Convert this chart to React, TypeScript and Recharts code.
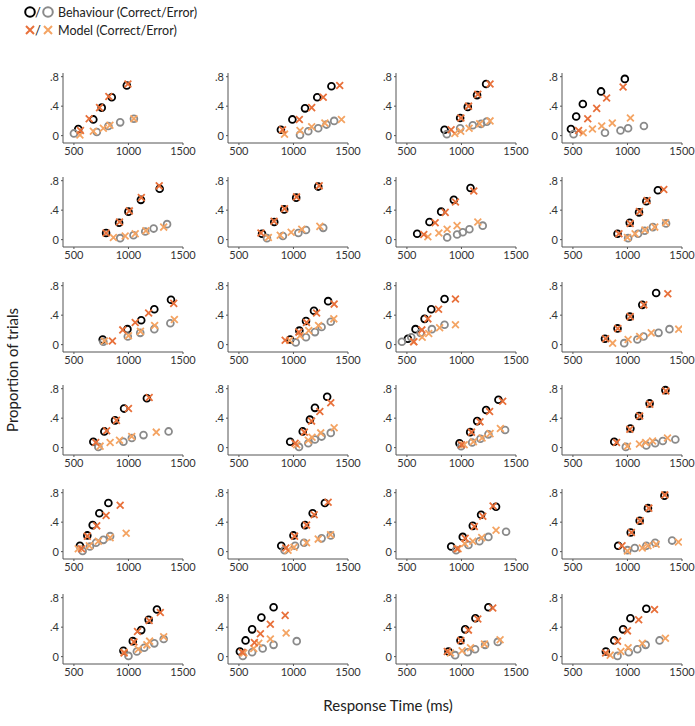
import { ScatterChart, Scatter, XAxis, YAxis } from "recharts";

// each entry is one panel (row by row, 4 per row); points are [RT ms, proportion]
const behavCorrect: [number, number][][] = [
  [[540, 0.09], [678, 0.22], [755, 0.38], [847, 0.52], [985, 0.68]],
  [[885, 0.08], [990, 0.22], [1106, 0.37], [1218, 0.52], [1348, 0.67]],
  [[845, 0.08], [988, 0.24], [1058, 0.39], [1143, 0.55], [1226, 0.7]],
  [[482, 0.09], [530, 0.26], [591, 0.43], [758, 0.6], [976, 0.77]],
  [[795, 0.09], [914, 0.23], [1000, 0.38], [1114, 0.54], [1286, 0.69]],
  [[712, 0.08], [824, 0.24], [915, 0.41], [1025, 0.57], [1227, 0.72]],
  [[594, 0.08], [707, 0.24], [814, 0.38], [930, 0.54], [1083, 0.7]],
  [[909, 0.08], [1021, 0.23], [1106, 0.37], [1173, 0.52], [1279, 0.67]],
  [[764, 0.07], [991, 0.21], [1117, 0.33], [1237, 0.48], [1390, 0.61]],
  [[970, 0.07], [1054, 0.19], [1115, 0.32], [1188, 0.46], [1318, 0.59]],
  [[509, 0.08], [579, 0.21], [662, 0.35], [723, 0.48], [845, 0.62]],
  [[794, 0.08], [909, 0.22], [1021, 0.38], [1136, 0.54], [1263, 0.7]],
  [[678, 0.08], [779, 0.22], [877, 0.37], [960, 0.53], [1169, 0.67]],
  [[970, 0.08], [1085, 0.22], [1151, 0.38], [1197, 0.54], [1309, 0.69]],
  [[982, 0.06], [1080, 0.21], [1144, 0.36], [1226, 0.51], [1339, 0.65]],
  [[879, 0.08], [1027, 0.26], [1106, 0.43], [1203, 0.6], [1348, 0.78]],
  [[555, 0.08], [623, 0.22], [672, 0.36], [733, 0.52], [816, 0.66]],
  [[888, 0.08], [1000, 0.22], [1106, 0.36], [1176, 0.52], [1288, 0.66]],
  [[906, 0.07], [1012, 0.2], [1104, 0.35], [1180, 0.5], [1317, 0.61]],
  [[915, 0.08], [1030, 0.26], [1112, 0.42], [1188, 0.59], [1339, 0.76]],
  [[954, 0.08], [1040, 0.21], [1117, 0.36], [1185, 0.5], [1261, 0.64]],
  [[509, 0.07], [561, 0.22], [621, 0.37], [706, 0.53], [818, 0.67]],
  [[881, 0.07], [991, 0.22], [1034, 0.37], [1128, 0.52], [1247, 0.67]],
  [[802, 0.07], [879, 0.22], [960, 0.37], [1027, 0.52], [1173, 0.65]],
];

const behavError: [number, number][][] = [
  [[500, 0.03], [710, 0.05], [816, 0.13], [924, 0.18], [1050, 0.23]],
  [[1060, 0.01], [1136, 0.06], [1227, 0.1], [1303, 0.15], [1373, 0.2]],
  [[866, 0.02], [988, 0.1], [1104, 0.14], [1180, 0.16], [1232, 0.19]],
  [[506, 0.02], [794, 0.04], [936, 0.07], [1006, 0.1], [1151, 0.13]],
  [[924, 0.02], [1046, 0.06], [1154, 0.11], [1231, 0.15], [1354, 0.21]],
  [[757, 0.02], [903, 0.05], [1045, 0.09], [1115, 0.13], [1273, 0.16]],
  [[869, 0.03], [960, 0.07], [1012, 0.1], [1073, 0.14], [1195, 0.19]],
  [[1006, 0.02], [1097, 0.08], [1158, 0.12], [1233, 0.17], [1354, 0.22]],
  [[770, 0.04], [994, 0.11], [1108, 0.16], [1237, 0.21], [1384, 0.29]],
  [[1021, 0.03], [1115, 0.1], [1197, 0.17], [1258, 0.24], [1342, 0.31]],
  [[454, 0.04], [540, 0.1], [625, 0.16], [729, 0.21], [845, 0.27]],
  [[970, 0.02], [1091, 0.07], [1148, 0.11], [1285, 0.16], [1385, 0.21]],
  [[724, 0.01], [954, 0.08], [1031, 0.13], [1138, 0.17], [1368, 0.22]],
  [[1051, 0.01], [1136, 0.06], [1197, 0.11], [1258, 0.15], [1342, 0.2]],
  [[997, 0.02], [1098, 0.07], [1174, 0.12], [1247, 0.18], [1400, 0.24]],
  [[985, 0.01], [1173, 0.03], [1254, 0.06], [1324, 0.09], [1439, 0.11]],
  [[580, 0.01], [647, 0.07], [703, 0.12], [770, 0.16], [832, 0.21]],
  [[918, 0.02], [1015, 0.08], [1097, 0.12], [1258, 0.18], [1342, 0.22]],
  [[951, 0.02], [1064, 0.09], [1165, 0.14], [1247, 0.2], [1409, 0.27]],
  [[1000, 0.02], [1067, 0.05], [1173, 0.08], [1254, 0.12], [1409, 0.15]],
  [[1000, 0.01], [1077, 0.07], [1145, 0.12], [1237, 0.18], [1323, 0.24]],
  [[536, 0.01], [621, 0.06], [718, 0.11], [818, 0.16], [1030, 0.21]],
  [[942, 0.02], [1058, 0.06], [1125, 0.1], [1217, 0.16], [1333, 0.2]],
  [[909, 0.01], [1012, 0.06], [1091, 0.1], [1167, 0.16], [1294, 0.22]],
];

const modelCorrect: [number, number][][] = [
  [[560, 0.07], [640, 0.23], [735, 0.38], [820, 0.53], [995, 0.7]],
  [[900, 0.08], [1054, 0.22], [1167, 0.38], [1273, 0.52], [1424, 0.68]],
  [[905, 0.08], [995, 0.24], [1065, 0.4], [1150, 0.56], [1262, 0.7]],
  [[552, 0.07], [636, 0.23], [718, 0.37], [809, 0.51], [960, 0.66]],
  [[795, 0.09], [918, 0.24], [1008, 0.39], [1118, 0.57], [1282, 0.73]],
  [[702, 0.09], [822, 0.25], [918, 0.42], [1028, 0.58], [1236, 0.73]],
  [[655, 0.07], [759, 0.23], [851, 0.37], [945, 0.51], [1113, 0.66]],
  [[922, 0.08], [1025, 0.22], [1110, 0.38], [1180, 0.53], [1333, 0.68]],
  [[853, 0.05], [948, 0.2], [1062, 0.3], [1185, 0.43], [1415, 0.56]],
  [[924, 0.06], [1050, 0.17], [1120, 0.3], [1212, 0.43], [1373, 0.55]],
  [[564, 0.04], [637, 0.2], [692, 0.35], [790, 0.48], [945, 0.62]],
  [[800, 0.08], [912, 0.22], [1025, 0.38], [1150, 0.54], [1370, 0.69]],
  [[700, 0.07], [800, 0.23], [890, 0.37], [1000, 0.53], [1190, 0.68]],
  [[1015, 0.06], [1100, 0.21], [1166, 0.36], [1242, 0.49], [1342, 0.61]],
  [[1000, 0.04], [1092, 0.21], [1170, 0.35], [1258, 0.49], [1378, 0.63]],
  [[900, 0.07], [1022, 0.25], [1112, 0.43], [1205, 0.59], [1352, 0.77]],
  [[570, 0.04], [623, 0.21], [709, 0.35], [795, 0.49], [924, 0.63]],
  [[930, 0.05], [1010, 0.21], [1120, 0.36], [1190, 0.5], [1318, 0.67]],
  [[960, 0.04], [1034, 0.18], [1118, 0.34], [1196, 0.48], [1290, 0.62]],
  [[950, 0.08], [1036, 0.26], [1116, 0.42], [1196, 0.59], [1342, 0.77]],
  [[960, 0.05], [1050, 0.2], [1083, 0.34], [1190, 0.49], [1292, 0.6]],
  [[530, 0.06], [642, 0.19], [697, 0.31], [788, 0.44], [924, 0.56]],
  [[870, 0.07], [994, 0.22], [1064, 0.36], [1150, 0.51], [1287, 0.66]],
  [[800, 0.05], [909, 0.21], [1000, 0.35], [1103, 0.5], [1248, 0.64]],
];

const modelError: [number, number][][] = [
  [[555, 0.01], [678, 0.06], [770, 0.1], [830, 0.14], [1050, 0.23]],
  [[918, 0.02], [1060, 0.07], [1167, 0.12], [1288, 0.17], [1440, 0.22]],
  [[939, 0.03], [993, 0.06], [1070, 0.1], [1167, 0.16], [1262, 0.2]],
  [[594, 0.04], [679, 0.09], [764, 0.13], [861, 0.17], [1027, 0.24]],
  [[862, 0.03], [970, 0.05], [1062, 0.08], [1160, 0.12], [1323, 0.17]],
  [[770, 0.03], [879, 0.06], [979, 0.1], [1076, 0.14], [1242, 0.18]],
  [[692, 0.04], [793, 0.09], [869, 0.14], [960, 0.19], [1150, 0.24]],
  [[1000, 0.03], [1070, 0.08], [1160, 0.13], [1250, 0.17], [1350, 0.23]],
  [[780, 0.05], [1000, 0.12], [1110, 0.18], [1240, 0.26], [1421, 0.34]],
  [[965, 0.06], [1060, 0.12], [1140, 0.19], [1230, 0.26], [1370, 0.35]],
  [[560, 0.04], [640, 0.1], [700, 0.15], [800, 0.23], [945, 0.27]],
  [[864, 0.02], [1006, 0.07], [1112, 0.11], [1218, 0.16], [1470, 0.21]],
  [[740, 0.02], [832, 0.07], [918, 0.1], [1030, 0.15], [1255, 0.21]],
  [[1030, 0.04], [1136, 0.1], [1170, 0.14], [1250, 0.2], [1373, 0.27]],
  [[1025, 0.04], [1110, 0.08], [1189, 0.13], [1262, 0.19], [1357, 0.26]],
  [[1000, 0.02], [1110, 0.05], [1167, 0.07], [1230, 0.09], [1367, 0.13]],
  [[540, 0.04], [641, 0.08], [724, 0.14], [832, 0.19], [979, 0.25]],
  [[950, 0.02], [1005, 0.06], [1120, 0.12], [1227, 0.17], [1340, 0.23]],
  [[970, 0.04], [1030, 0.11], [1104, 0.14], [1186, 0.19], [1317, 0.29]],
  [[1000, 0.01], [1136, 0.05], [1188, 0.08], [1263, 0.1], [1467, 0.13]],
  [[960, 0.06], [1090, 0.1], [1169, 0.16], [1194, 0.21], [1323, 0.27]],
  [[545, 0.05], [636, 0.11], [682, 0.18], [788, 0.24], [933, 0.32]],
  [[900, 0.05], [1006, 0.08], [1083, 0.12], [1211, 0.17], [1354, 0.23]],
  [[842, 0.02], [939, 0.07], [1006, 0.12], [1136, 0.18], [1348, 0.25]],
];

const xTicks = [500, 1000, 1500];
const yTicks = [0, 0.4, 0.8];

const BLACK = "#000000";
const GREY = "#8a8a8a";
const ORANGE = "#e8703a";
const LIGHT_ORANGE = "#f4a463";
const FONT = "Lato, 'Open Sans', sans-serif";

const colLefts = [63, 228, 396, 562];
const rowTops = [73, 177, 282, 385, 489, 594];
const Y_AXIS_W = 28;
const PLOT_W = 120;
const PLOT_H = 70;
const M_TOP = 5;
const M_RIGHT = 20;
const X_AXIS_H = 22;

const toPoints = (pts: [number, number][]) => pts.map(([x, y]) => ({ x, y }));

const fmtY = (v: number) => (v === 0 ? "0" : String(v).replace(/^0/, ""));

function ring(color: string) {
  return (props: any) => (
    <circle cx={props.cx} cy={props.cy} r={3.4} fill="none" stroke={color} strokeWidth={1.8} />
  );
}

function cross(color: string) {
  return (props: any) => {
    const { cx, cy } = props;
    const s = 3.4;
    return (
      <path
        d={`M${cx - s},${cy - s}L${cx + s},${cy + s}M${cx - s},${cy + s}L${cx + s},${cy - s}`}
        stroke={color}
        strokeWidth={1.8}
        fill="none"
      />
    );
  };
}

function Panel({ idx }: { idx: number }) {
  const row = Math.floor(idx / 4);
  const col = idx % 4;
  const tickStyle = { fontSize: 11, fill: "#333", fontFamily: FONT };
  return (
    <div
      style={{
        position: "absolute",
        left: colLefts[col] - Y_AXIS_W,
        top: rowTops[row] - M_TOP,
      }}
    >
      <ScatterChart
        width={Y_AXIS_W + PLOT_W + M_RIGHT}
        height={M_TOP + PLOT_H + X_AXIS_H}
        margin={{ top: M_TOP, right: M_RIGHT, bottom: 0, left: 0 }}
      >
        <XAxis
          type="number"
          dataKey="x"
          domain={[400, 1500]}
          ticks={xTicks}
          allowDataOverflow
          height={X_AXIS_H}
          tick={tickStyle}
          tickSize={2}
          stroke="#555"
          interval={0}
        />
        <YAxis
          type="number"
          dataKey="y"
          domain={[-0.1, 0.85]}
          ticks={yTicks}
          allowDataOverflow
          width={Y_AXIS_W}
          tick={tickStyle}
          tickSize={2}
          tickFormatter={fmtY}
          stroke="#555"
          interval={0}
        />
        <Scatter data={toPoints(behavCorrect[idx])} shape={ring(BLACK)} isAnimationActive={false} />
        <Scatter data={toPoints(behavError[idx])} shape={ring(GREY)} isAnimationActive={false} />
        <Scatter data={toPoints(modelError[idx])} shape={cross(LIGHT_ORANGE)} isAnimationActive={false} />
        <Scatter data={toPoints(modelCorrect[idx])} shape={cross(ORANGE)} isAnimationActive={false} />
      </ScatterChart>
    </div>
  );
}

function Legend() {
  const row = (y: number, a: JSX.Element, b: JSX.Element, label: string) => (
    <g>
      {a}
      <text x={35} y={y + 5} fontSize={13} fill="#222" fontFamily={FONT}>/</text>
      {b}
      <text x={58} y={y + 4.5} fontSize={12.5} fill="#222" fontFamily={FONT}>{label}</text>
    </g>
  );
  return (
    <svg width={280} height={44} style={{ position: "absolute", left: 0, top: 0 }}>
      {row(
        12,
        <circle cx={30} cy={12} r={4.8} fill="none" stroke={BLACK} strokeWidth={2} />,
        <circle cx={48} cy={12} r={4.8} fill="none" stroke={GREY} strokeWidth={2} />,
        "Behaviour (Correct/Error)"
      )}
      {row(
        30,
        <path d="M26,26L34,34M26,34L34,26" stroke={ORANGE} strokeWidth={2} />,
        <path d="M44,26L52,34M44,34L52,26" stroke={LIGHT_ORANGE} strokeWidth={2} />,
        "Model (Correct/Error)"
      )}
    </svg>
  );
}

export default function App() {
  return (
    <div
      style={{
        position: "absolute",
        left: 0,
        top: 0,
        width: 695,
        height: 726,
        background: "#fff",
        fontFamily: FONT,
      }}
    >
      <Legend />
      {behavCorrect.map((_, i) => (
        <Panel key={i} idx={i} />
      ))}
      <div
        style={{
          position: "absolute",
          left: 12,
          top: 370,
          transform: "translate(-50%, -50%) rotate(-90deg)",
          whiteSpace: "nowrap",
          fontSize: 15,
          color: "#222",
        }}
      >
        Proportion of trials
      </div>
      <div
        style={{
          position: "absolute",
          left: 388,
          top: 705,
          transform: "translate(-50%, -50%)",
          whiteSpace: "nowrap",
          fontSize: 15,
          color: "#222",
        }}
      >
        Response Time (ms)
      </div>
    </div>
  );
}
